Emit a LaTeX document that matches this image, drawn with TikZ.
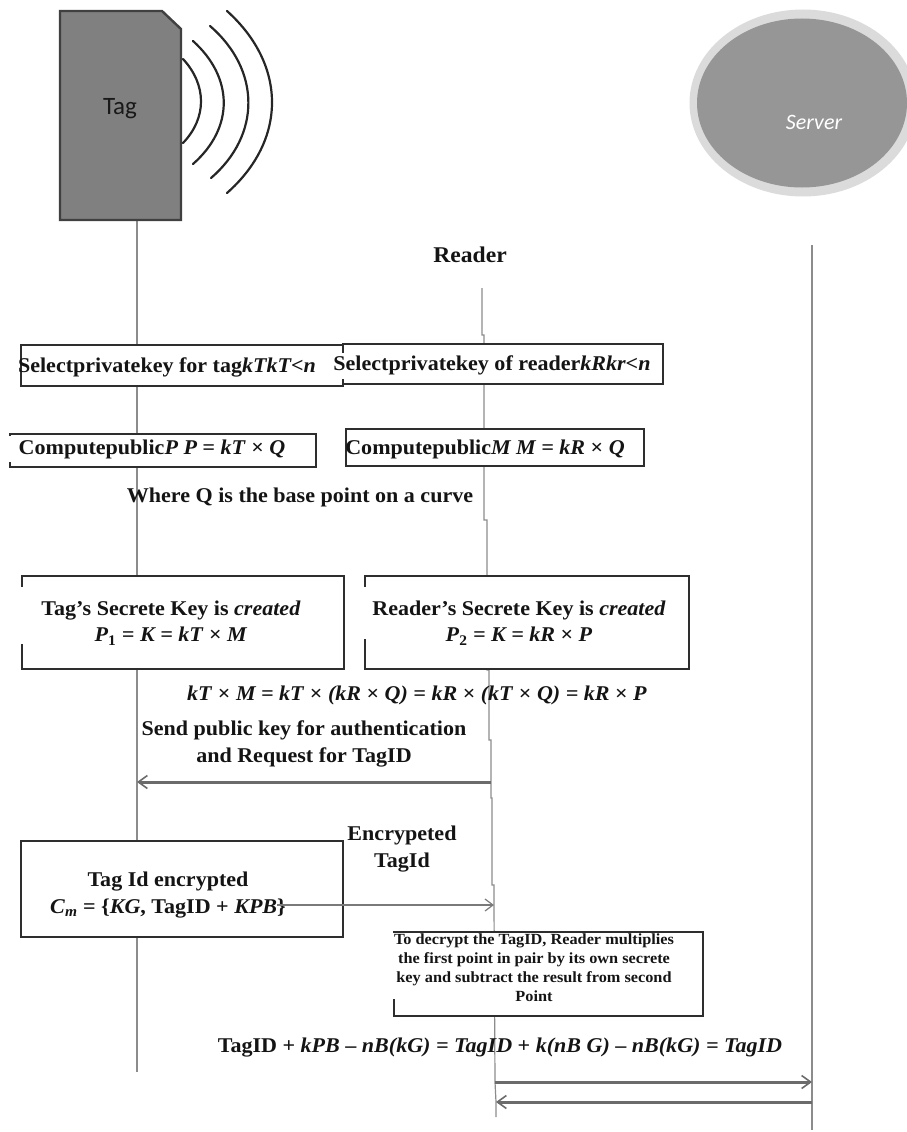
\documentclass[tikz,border=0pt]{standalone}
\usepackage{fontspec}
\setmainfont[FakeStretch=1.05]{Liberation Serif}
\newfontfamily\carl{Carlito}
\usetikzlibrary{arrows.meta,shapes.geometric}
\definecolor{life}{gray}{0.55}
\definecolor{edge}{gray}{0.18}
\tikzset{
  x=1pt,y=-1pt,
  lifeline/.style={draw=life,line width=1.2pt},
  msgbox/.style={draw=edge,fill=white,line width=1.6pt,inner sep=0pt,anchor=north west},
  txt/.style={font=\bfseries\fontsize{21}{26.5}\selectfont,align=center,inner sep=0pt,text=black!92},
  small/.style={font=\bfseries\fontsize{15.5}{19}\selectfont,align=center,inner sep=0pt,text=black!92},
  gap/.style={draw=white,line width=3pt},
  heavy/.style={draw=black!58,line width=3pt,-{Straight Barb[length=9pt,width=13pt,line width=1.6pt]}},
  thin msg/.style={draw=black!52,line width=1.2pt,-{Straight Barb[length=8pt,width=12pt,line width=1.2pt]}},
  wave/.style={draw=black!85,line width=2.2pt,line cap=round},
}
\newcommand{\bi}[1]{\textit{#1}}
\begin{document}
\begin{tikzpicture}
\useasboundingbox (0,0) rectangle (907,1132);
\clip (0,0) rectangle (907,1132);
% server
\node[ellipse,draw=none,fill=black!14,minimum width=227pt,minimum height=187pt,inner sep=0pt] (srvouter) at (803,103) {};
\node[ellipse,draw=none,fill=black!41,minimum width=210pt,minimum height=169pt,inner sep=0pt] (srv) at (802,103) {};
\node[font=\carl\itshape\fontsize{22}{26}\selectfont,text=white,inner sep=0pt] (srvt) at (814,122) {Server};
% lifelines
\coordinate (tagtop) at (137,220);
\coordinate (tagbot) at (137,1072);
\coordinate (tm) at (137,782);
\coordinate (rtop) at (482,288);
\coordinate (r1) at (482,335);
\coordinate (r2) at (484,335);
\coordinate (r3) at (484,520);
\coordinate (r4) at (487,520);
\coordinate (r5) at (487,670);
\coordinate (r6) at (489,670);
\coordinate (r7) at (489,740);
\coordinate (r8) at (491,740);
\coordinate (rs) at (491,782);
\coordinate (r9) at (491,798);
\coordinate (r10) at (492,798);
\coordinate (r11) at (492,885);
\coordinate (r12) at (494,885);
\coordinate (rm) at (494,905);
\coordinate (rb) at (495,1082);
\coordinate (rc) at (496,1102);
\coordinate (rbot) at (496,1117);
\coordinate (stop) at (812,245);
\coordinate (sa) at (812,1082);
\coordinate (sb) at (812,1102);
\coordinate (sbot) at (812,1130);
\coordinate (tidr) at (277,905);
\draw[lifeline] (tagtop) -- (tagbot);
\draw[lifeline] (rtop) -- (r1) -- (r2) -- (r3) -- (r4) -- (r5) -- (r6) -- (r7) -- (r8) -- (rs) -- (r9) -- (r10) -- (r11) -- (r12) -- (rm) -- (rb) -- (rc) -- (rbot);
\draw[lifeline] (stop) -- (sa) -- (sb) -- (sbot);
% tag
\draw[draw=black!75,fill=black!50,line width=2.4pt] (60,11) -- (162,11) -- (181,29) -- (181,220) -- (60,220) -- cycle;
\node[font=\carl\fontsize{25}{28}\selectfont,inner sep=0pt,text=black!90] (tagt) at (120,109) {Tag};
\draw[wave] (183,59) .. controls (207,85) and (207,118) .. (183,143);
\draw[wave] (193,41) .. controls (234,78) and (234,128) .. (193,164);
\draw[wave] (210,26) .. controls (261,70) and (261,135) .. (211,178);
\draw[wave] (227,11) .. controls (287,65) and (287,140) .. (227,193);
% boxes
\node[msgbox,minimum width=320pt,minimum height=40pt] (b1r) at (342,343) {};
\node[msgbox,minimum width=322pt,minimum height=41pt] (b1t) at (20,344) {};
\node[msgbox,minimum width=306pt,minimum height=33pt] (b2t) at (9,433) {};
\node[msgbox,minimum width=298pt,minimum height=37pt] (b2r) at (345,428) {};
\node[msgbox,minimum width=322pt,minimum height=93pt] (b3t) at (21,575) {};
\node[msgbox,minimum width=324pt,minimum height=93pt] (b3r) at (364,575) {};
\node[msgbox,minimum width=322pt,minimum height=96pt] (b4) at (20,840) {};
\node[msgbox,minimum width=309pt,minimum height=84pt] (b5) at (393,931) {};
% broken edges
\draw[gap] ([yshift=-12pt]b3t.north west) -- ([yshift=26pt]b3t.south west);
\draw[gap] ([yshift=-12pt]b3r.north west) -- ([yshift=31pt]b3r.south west);
\draw[gap] ([yshift=-3pt]b2t.north west) -- ([yshift=6pt]b2t.south west);
\draw[gap] ([yshift=-2pt]b5.north west) -- ([yshift=18pt]b5.south west);
\draw[gap] ([yshift=-9pt]b1t.north east) -- ([yshift=8pt]b1t.south east);
% texts
\node[txt,font=\bfseries\fontsize{22.5}{26}\selectfont] (reader) at (470,255) {Reader};
\node[txt] (t1) at (167,367) {Selectprivatekey for tag\bi{kTkT<n}};
\node[txt] (t2) at (492,365) {Selectprivatekey of reader\bi{kRkr<n}};
\node[txt] (t3) at (152,449) {Computepublic\bi{P P = kT} × \bi{Q}};
\node[txt] (t4) at (485,449) {Computepublic\bi{M M = kR} × \bi{Q}};
\node[txt] (t5) at (300,497) {Where Q is the base point on a curve};
\node[txt] (t6) at (171,623) {Tag’s Secrete Key is \bi{created}\\\bi{P}\textsubscript{1} \bi{= K = kT} × \bi{M}};
\node[txt] (t7) at (519,623) {Reader’s Secrete Key is \bi{created}\\\bi{P}\textsubscript{2} \bi{= K = kR} × \bi{P}};
\node[txt] (t8) at (417,695) {\bi{kT} × \bi{M = kT} × \bi{(kR} × \bi{Q) = kR} × \bi{(kT} × \bi{Q) = kR} × \bi{P}};
\node[txt] (t9) at (304,744) {Send public key for authentication\\and Request for TagID};
\node[txt] (t10) at (402,849) {Encrypeted\\TagId};
\node[txt] (t11) at (168,895) {Tag Id encrypted\\\bi{C}\textsubscript{\bi{m}} = \{\bi{KG}, TagID + \bi{KPB}\}};
\node[small] (t12) at (534,968) {To decrypt the TagID, Reader multiplies\\the first point in pair by its own secrete\\key and subtract the result from second\\Point};
\node[txt] (t13) at (500,1048) {TagID + \bi{kPB} – \bi{nB(kG) = TagID} + \bi{k(nB G)} – \bi{nB(kG) = TagID}};
% messages
\draw[heavy] (rs) -- (tm);
\draw[thin msg] (tidr) -- (rm);
\draw[heavy] (rb) -- (sa);
\draw[heavy] (sb) -- (rc);
\end{tikzpicture}
\end{document}
